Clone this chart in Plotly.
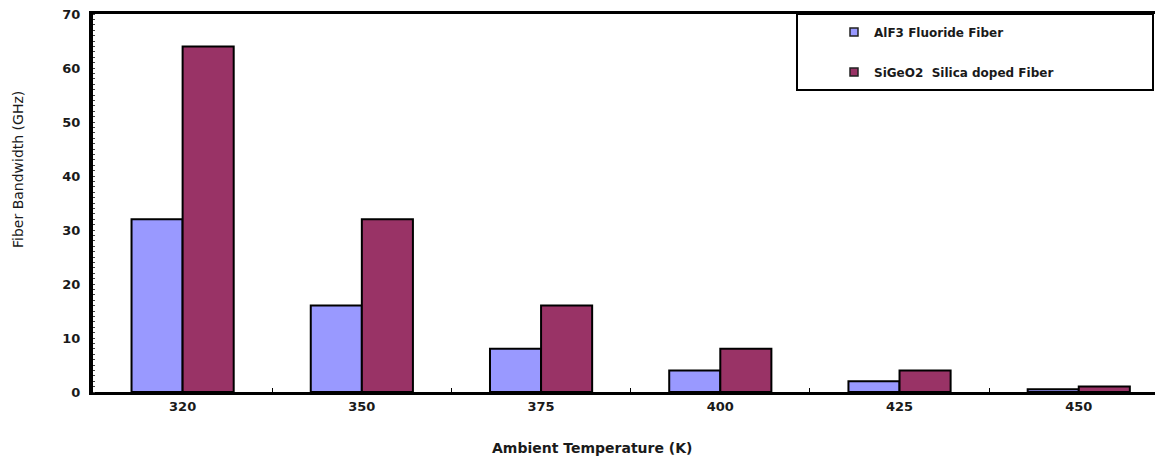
import plotly.graph_objects as go

categories = ["320", "350", "375", "400", "425", "450"]
alf3 = [32, 16, 8, 4, 2, 0.5]
sigeo2 = [64, 32, 16, 8, 4, 1]
y_ticks = [0, 10, 20, 30, 40, 50, 60, 70]
names = ["AlF3 Fluoride Fiber", "SiGeO2  Silica doped Fiber"]
colors = ["#9999FF", "#993366"]

# page body has an 8px margin; figure is laid out in its own coordinates
W, H = 1155, 453
ml, mr, mt, mb = 85, 0, 6, 69
PW, PH = W - ml - mr, H - mt - mb

FONT = "DejaVu Sans, Verdana, sans-serif"
TXT = "#1a1a1a"

fig = go.Figure()
for vals, nm, col in zip([alf3, sigeo2], names, colors):
    fig.add_trace(go.Bar(x=categories, y=vals, name=nm, showlegend=False,
                         marker=dict(color=col, line=dict(color="black", width=2))))
# legend entries (small square keys)
for i, (nm, col) in enumerate(zip(names, colors)):
    fig.add_trace(go.Scatter(x=[None], y=[None], mode="markers", name=nm,
                             marker=dict(symbol="square", size=8, color=col,
                                         line=dict(color="#222222", width=1.5)),
                             legend="legend" if i == 0 else "legend2"))

leg_common = dict(xanchor="left", yanchor="middle", bgcolor="rgba(0,0,0,0)", borderwidth=0,
                  font=dict(family=FONT, size=12, color=TXT, weight="bold"))
fig.update_layout(
    width=W, height=H,
    margin=dict(l=ml, r=mr, t=mt, b=mb),
    paper_bgcolor="white", plot_bgcolor="white",
    barmode="group", bargap=0.43, bargroupgap=0,
    showlegend=True,
    legend=dict(x=(826 - ml) / PW, y=(H - mb - 24) / PH, **leg_common),
    legend2=dict(x=(826 - ml) / PW, y=(H - mb - 64) / PH, **leg_common),
    xaxis=dict(range=[-0.5, 5.47], showline=True, linecolor="black", linewidth=3,
               mirror=True, ticks="inside", tickson="boundaries", ticklen=4,
               tickcolor="black", tickwidth=1, showgrid=False, zeroline=False,
               tickfont=dict(family=FONT, size=13, color=TXT, weight="bold")),
    yaxis=dict(range=[0, 70], tickvals=y_ticks, showline=True, linecolor="black", linewidth=4,
               ticks="", showgrid=False, zeroline=False, ticklabelstandoff=6,
               ticklabeloverflow="allow",
               tickfont=dict(family=FONT, size=13, color=TXT, weight="bold"),
               minor=dict(dtick=1, ticks="inside", ticklen=2, tickcolor="#444444", showgrid=False)),
)

# legend box
fig.add_shape(type="rect", xref="paper", yref="paper",
              x0=(789 - ml) / PW, x1=(1145 - ml) / PW,
              y0=(H - mb - 82) / PH, y1=1.0,
              line=dict(color="black", width=2), fillcolor="white", layer="below")

fig.add_annotation(text="Ambient Temperature (K)", xref="paper", yref="paper",
                   x=(584 - ml) / PW, y=-(440 - (H - mb)) / PH,
                   xanchor="center", yanchor="middle", showarrow=False,
                   font=dict(family=FONT, size=14, color=TXT, weight="bold"))
fig.add_annotation(text="Fiber Bandwidth (GHz)", xref="paper", yref="paper",
                   x=-(ml - 10) / PW, y=(H - mb - 162) / PH,
                   xanchor="center", yanchor="middle", textangle=-90, showarrow=False,
                   font=dict(family=FONT, size=14, color=TXT))

fig.write_html("out.html")
